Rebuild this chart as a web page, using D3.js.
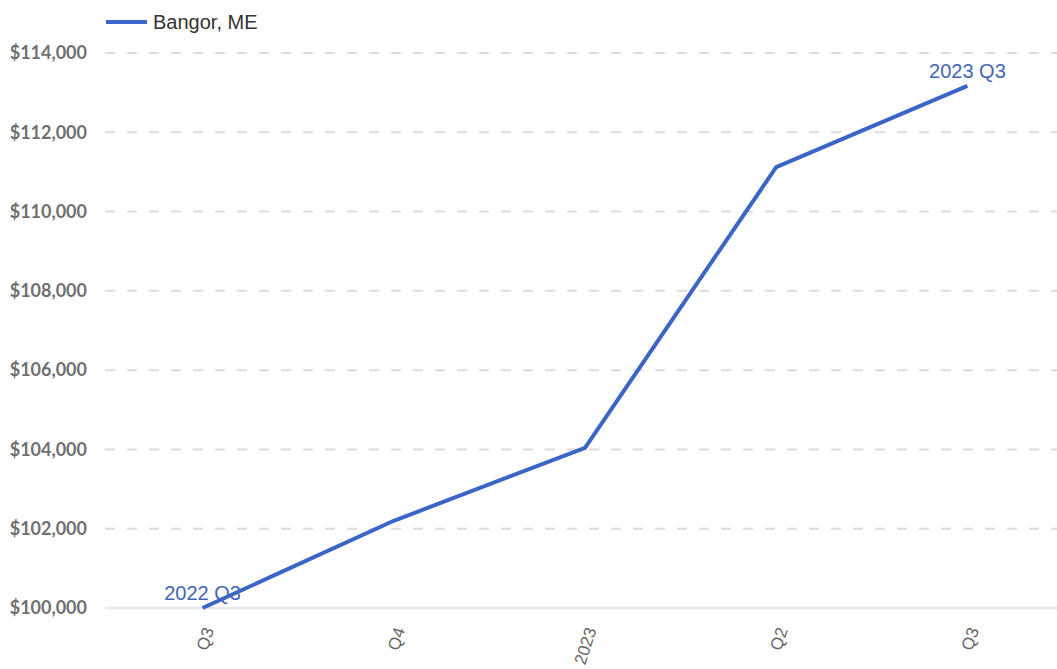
<!DOCTYPE html>
<html>
<head>
<meta charset="utf-8">
<script src="https://cdn.jsdelivr.net/npm/d3@7"></script>
<style>
    body { margin: 0; background: #fff; }
    svg { display: block; }
</style>
</head>
<body>
<svg id="chart" width="1057" height="669"></svg>
<script>
const categories = ["2022 Q3", "2022 Q4", "2023 Q1", "2023 Q2", "2023 Q3"]
const tickLabels = ["Q3", "Q4", "2023", "Q2", "Q3"]
const values = [100000, 102200, 104040, 111120, 113170]
const yTicks = [100000, 102000, 104000, 106000, 108000, 110000, 112000, 114000]
const seriesName = "Bangor, ME"

const lineColor = "#3b65c6"
const plot = {left: 105, right: 1057, top: 53, bottom: 608}

const svg = d3.select("#chart")

const x = d3.scalePoint()
    .domain(categories)
    .range([plot.left + 2, plot.right + 6])
    .padding(0.5)

const y = d3.scaleLinear()
    .domain([100000, 114000])
    .range([plot.bottom, plot.top])

// dashed grid lines
svg.append("g")
    .selectAll("line")
    .data(yTicks.filter(d => d !== 100000))
    .enter()
    .append("line")
    .attr("x1", plot.left)
    .attr("x2", plot.right)
    .attr("y1", d => y(d))
    .attr("y2", d => y(d))
    .attr("stroke", "#dcdcdc")
    .attr("stroke-width", 2)
    .attr("stroke-dasharray", "10,12")

// baseline
svg.append("line")
    .attr("x1", plot.left)
    .attr("x2", plot.right)
    .attr("y1", y(100000))
    .attr("y2", y(100000))
    .attr("stroke", "#e2e2e2")
    .attr("stroke-width", 1.5)

// y axis labels
const fmt = d3.format(",")
svg.append("g")
    .selectAll("text")
    .data(yTicks)
    .enter()
    .append("text")
    .attr("x", 87)
    .attr("y", d => y(d))
    .attr("dy", "0.35em")
    .attr("text-anchor", "end")
    .style("font-family", "Lato, 'Open Sans', sans-serif")
    .style("font-weight", "bold")
    .style("font-size", "18px")
    .style("fill", "#707070")
    .text(d => "$" + fmt(d))

// x axis labels, rotated
svg.append("g")
    .selectAll("text")
    .data(categories)
    .enter()
    .append("text")
    .attr("transform", d => "translate(" + (x(d) + 6) + "," + (plot.bottom + 20) + ") rotate(-72)")
    .attr("text-anchor", "end")
    .attr("dy", "0.35em")
    .style("font-family", "Arial, 'Liberation Sans', sans-serif")
    .style("font-size", "17px")
    .style("fill", "#666")
    .text((d, i) => tickLabels[i])

// the line
const line = d3.line()
    .x((d, i) => x(categories[i]))
    .y(d => y(d))

svg.append("path")
    .datum(values)
    .attr("d", line)
    .attr("fill", "none")
    .attr("stroke", lineColor)
    .attr("stroke-width", 4)
    .attr("stroke-linejoin", "round")

// end point annotations
const ends = [0, values.length - 1]
svg.append("g")
    .selectAll("text")
    .data(ends)
    .enter()
    .append("text")
    .attr("x", i => x(categories[i]))
    .attr("y", i => y(values[i]) - 8)
    .attr("text-anchor", "middle")
    .style("font-family", "Arial, 'Liberation Sans', sans-serif")
    .style("font-size", "20px")
    .style("fill", "#4466b8")
    .text(i => categories[i])

// legend
const legend = svg.append("g").attr("transform", "translate(106,22)")
legend.append("line")
    .attr("x1", 0).attr("x2", 41)
    .attr("stroke", lineColor)
    .attr("stroke-width", 4)
legend.append("text")
    .attr("x", 47)
    .attr("dy", "0.35em")
    .style("font-family", "Arial, 'Liberation Sans', sans-serif")
    .style("font-size", "20px")
    .style("fill", "#333")
    .text(seriesName)
</script>
</body>
</html>
